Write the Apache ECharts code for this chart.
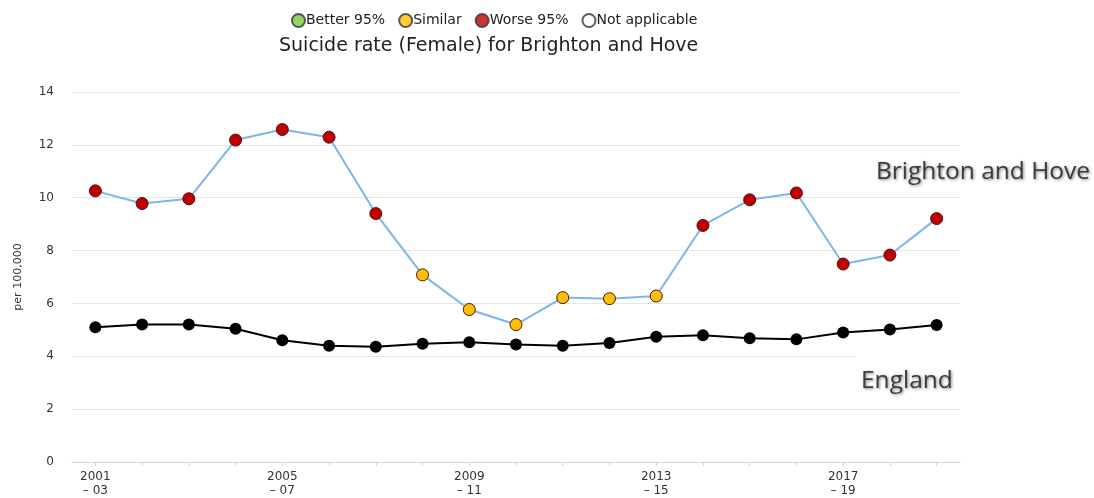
<!DOCTYPE html>
<html>
<head>
<meta charset="utf-8">
<script src="https://cdn.jsdelivr.net/npm/echarts@6/dist/echarts.min.js"></script>
<style>
html,body{margin:0;padding:0;background:#fff;}
#chart{width:1094px;height:498px;}
</style>
</head>
<body>
<div id="chart"></div>
<script>
// periods (3 year rolling)
var periods = ['2001\n– 03','2002\n– 04','2003\n– 05','2004\n– 06','2005\n– 07','2006\n– 08','2007\n– 09',
    '2008\n– 10','2009\n– 11','2010\n– 12','2011\n– 13','2012\n– 14','2013\n– 15','2014\n– 16',
    '2015\n– 17','2016\n– 18','2017\n– 19','2018\n– 20','2019\n– 21'];
var brighton = [10.26,9.78,9.96,12.18,12.58,12.29,9.40,7.08,5.77,5.20,6.22,6.18,6.28,8.95,9.92,10.18,7.49,7.83,9.21];
var england = [5.10,5.20,5.20,5.04,4.61,4.40,4.36,4.47,4.53,4.45,4.40,4.50,4.74,4.80,4.68,4.64,4.90,5.01,5.18];
// compared with England
var significance = ['worse','worse','worse','worse','worse','worse','worse','similar','similar','similar',
    'similar','similar','similar','worse','worse','worse','worse','worse','worse'];
var legendNames = ['Better 95%','Similar','Worse 95%','Not applicable'];
var legendKeys = ['better','similar','worse','na'];

var sigColors = {better:'#7ac943', similar:'#ffc000', worse:'#c00000', na:'#ffffff'};
var fontFam = 'DejaVu Sans';

var brightonData = [];
for (var i=0;i<brighton.length;i++) {
    brightonData.push({
        value: brighton[i],
        itemStyle: {color: sigColors[significance[i]], borderColor:'#4d1010', borderWidth:1}
    });
}

var series = [];
for (var k=0;k<legendNames.length;k++) {
    series.push({name: legendNames[k], type: 'scatter', data: [],
        itemStyle: {color: sigColors[legendKeys[k]], borderColor: '#333', borderWidth: 1}});
}
series.push({
    name: 'England',
    type: 'line',
    data: england,
    symbol: 'circle',
    symbolSize: 12,
    lineStyle: {color: '#000', width: 2},
    itemStyle: {color: '#000'},
    z: 3
});
series.push({
    name: 'Brighton and Hove',
    type: 'line',
    data: brightonData,
    symbol: 'circle',
    symbolSize: 12,
    lineStyle: {color: '#7cb5ec', width: 2},
    z: 4
});

var labelStyle = {font:'24.5px "Open Sans"', fill:'#3c3c3c',
    textShadowColor:'rgba(0,0,0,0.5)', textShadowBlur:3, textShadowOffsetX:1, textShadowOffsetY:1};

var myChart = echarts.init(document.getElementById('chart'));
var option = {
    animation: false,
    title: {
        text: 'Suicide rate (Female) for Brighton and Hove',
        left: 274,
        top: 32,
        textStyle: {fontFamily: fontFam, fontSize: 19, fontWeight: 'normal', color: '#222'}
    },
    legend: {
        top: 8,
        left: 286,
        itemWidth: 13,
        itemHeight: 13,
        itemGap: 13,
        icon: 'circle',
        textStyle: {fontFamily: fontFam, fontSize: 14, color: '#222', padding: [0,0,0,-4]},
        data: legendNames
    },
    grid: {left: 72, right: 134, top: 92, bottom: 30},
    xAxis: {
        type: 'category',
        data: periods,
        boundaryGap: true,
        axisLine: {lineStyle: {color: '#ccd6eb'}},
        axisTick: {show: true, alignWithLabel: true, interval: 0, length: 4, lineStyle: {color: '#ccd6eb'}},
        axisLabel: {interval: 3, fontFamily: fontFam, fontSize: 12, color: '#333', lineHeight: 14, margin: 8}
    },
    yAxis: {
        type: 'value',
        min: 0,
        max: 14,
        interval: 2,
        name: 'per 100,000',
        nameLocation: 'middle',
        nameGap: 48,
        nameTextStyle: {fontFamily: fontFam, fontSize: 11, color: '#333'},
        axisLabel: {fontFamily: fontFam, fontSize: 12, color: '#333', margin: 18},
        splitLine: {lineStyle: {color: '#e6e6e6'}}
    },
    series: series,
    graphic: [
        {type:'rect', shape:{x:855, y:355, width:110, height:8}, style:{fill:'#fff'}, z:10},
        {type:'text', right: 4, top: 160, z: 11, style: Object.assign({text:'Brighton and Hove'}, labelStyle)},
        {type:'text', left: 861, top: 369, z: 11, style: Object.assign({text:'England'}, labelStyle)}
    ]
};
myChart.setOption(option);
</script>
</body>
</html>
